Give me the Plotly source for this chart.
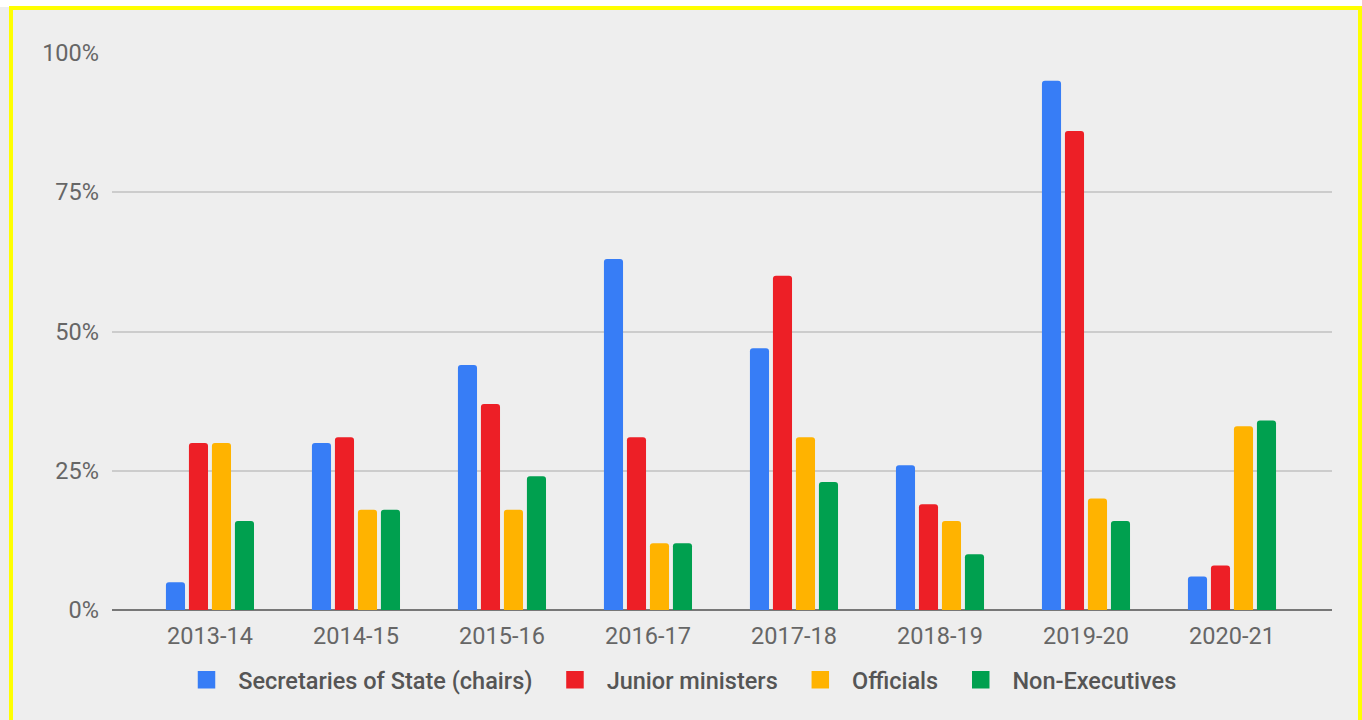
import plotly.graph_objects as go

# Financial years on the x axis
years = ["2013-14", "2014-15", "2015-16", "2016-17", "2017-18", "2018-19", "2019-20", "2020-21"]

# Share of board meetings attended, by attendee group (fractions of 1)
secretaries_of_state = [0.05, 0.30, 0.44, 0.63, 0.47, 0.26, 0.95, 0.06]
junior_ministers = [0.30, 0.31, 0.37, 0.31, 0.60, 0.19, 0.86, 0.08]
officials = [0.30, 0.18, 0.18, 0.12, 0.31, 0.16, 0.20, 0.33]
non_executives = [0.16, 0.18, 0.24, 0.12, 0.23, 0.10, 0.16, 0.34]

series_names = ["Secretaries of State (chairs)", "Junior ministers", "Officials", "Non-Executives"]
series_values = [secretaries_of_state, junior_ministers, officials, non_executives]
series_colors = ["#377df6", "#ed1f26", "#ffb300", "#00a04f"]

y_tick_values = [0, 0.25, 0.5, 0.75, 1.0]
y_tick_labels = ["0%", "25%", "50%", "75%", "100%"]

W, H = 1362, 720
M_L, M_R, M_T, M_B = 112, 30, 53, 110
plot_w = W - M_L - M_R
plot_h = H - M_T - M_B
FONT_SIZE = 23.5
NBSP = "\u00a0"

fig = go.Figure()

for name, vals, col in zip(series_names, series_values, series_colors):
    fig.add_trace(go.Bar(
        x=years, y=vals, name=name,
        marker=dict(color=col, cornerradius=3, line=dict(width=0)),
        showlegend=False, legendgroup=name,
    ))

# Legend swatches as larger squares, with extra padding around the labels
for i, (name, col) in enumerate(zip(series_names, series_colors)):
    tail = NBSP * 3 if i < len(series_names) - 1 else ""
    fig.add_trace(go.Scatter(
        x=[None], y=[None], mode="markers", name=NBSP * 2 + name + tail, legendgroup=name,
        marker=dict(symbol="square", size=16, color=col, line=dict(color=col, width=1.5)),
    ))


def px_x(px):
    return (px - M_L) / plot_w


def px_y(py):
    return (H - M_B - py) / plot_h


shapes = [
    # white strip along the top edge
    dict(type="rect", xref="paper", yref="paper", layer="below",
         x0=px_x(-10), x1=px_x(W + 10), y0=px_y(7), y1=px_y(-10),
         fillcolor="white", line=dict(width=0)),
    # yellow frame
    dict(type="rect", xref="paper", yref="paper", layer="below",
         x0=px_x(11), x1=px_x(1360), y0=px_y(730), y1=px_y(8),
         fillcolor="rgba(0,0,0,0)", line=dict(color="#ffff00", width=4)),
]

fig.update_layout(
    width=W, height=H,
    margin=dict(l=M_L, r=M_R, t=M_T, b=M_B, pad=0),
    paper_bgcolor="#eeeeee",
    plot_bgcolor="#eeeeee",
    barmode="group",
    bargap=0.37,
    bargroupgap=0.17,
    font=dict(family="Roboto", size=FONT_SIZE, color="#666666"),
    shapes=shapes,
    showlegend=True,
    legend=dict(
        orientation="h", x=px_x(684), xanchor="center", y=px_y(680), yanchor="middle",
        font=dict(family="Roboto", size=FONT_SIZE, color="#555555", weight=500),
        bgcolor="rgba(0,0,0,0)", itemsizing="trace",
    ),
    xaxis=dict(
        type="category", range=[-0.671, 7.685],
        showgrid=False, zeroline=False, showline=False, ticks="",
        ticklabelstandoff=9, tickfont=dict(size=FONT_SIZE, color="#666666"),
    ),
    yaxis=dict(
        range=[0, 1.0], tickvals=y_tick_values, ticktext=y_tick_labels,
        showgrid=True, gridcolor="#cccccc", gridwidth=2,
        zeroline=True, zerolinecolor="#777777", zerolinewidth=2,
        showline=False, ticks="", ticklabelstandoff=12,
        tickfont=dict(size=FONT_SIZE, color="#666666"),
    ),
)

fig.write_html("out.html")
